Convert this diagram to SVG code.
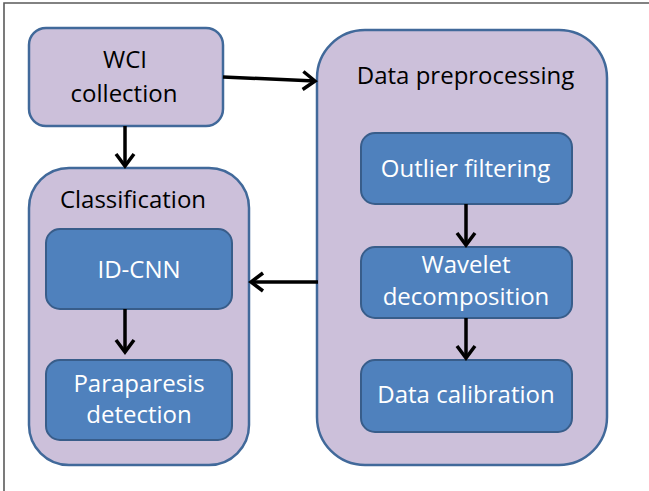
<svg xmlns="http://www.w3.org/2000/svg" width="649" height="491" viewBox="0 0 649 491">
<defs>
<style>
.frame{stroke:#5a5a5a;stroke-width:1.6;fill:none}
.outer{fill:#CCC0DA;stroke:#41699A;stroke-width:2.5}
.inner{fill:#4F81BD;stroke:#385D8A;stroke-width:2}
.t{font-family:"Open Sans","Noto Sans","DejaVu Sans",sans-serif;font-size:24px;text-anchor:middle}
.dark{fill:#000}
.light{fill:#fff}
.conn{stroke:#000;stroke-width:3.5;fill:none}
</style>
<marker id="arr" markerUnits="userSpaceOnUse" markerWidth="20" markerHeight="24" viewBox="0 0 20 24" refX="15" refY="12" orient="auto">
<path d="M3,3 L15,12 L3,21" fill="none" stroke="#000" stroke-width="3.5" stroke-linejoin="miter"/>
</marker>
</defs>
<rect width="649" height="491" fill="#fff"/>
<path class="frame" d="M4,491 L4,3 L649,3"/>

<g id="wci">
<rect class="outer" x="29" y="28" width="194" height="98" rx="17"/>
<text class="t dark" x="125" y="68">WCI</text>
<text class="t dark" x="124" y="102">collection</text>
</g>

<g id="classification">
<rect class="outer" x="29" y="168" width="220" height="297" rx="40"/>
<text class="t dark" x="133" y="208">Classification</text>
</g>

<g id="idcnn">
<rect class="inner" x="46" y="229" width="186" height="80" rx="14"/>
<text class="t light" x="139" y="278">ID-CNN</text>
</g>

<g id="paraparesis">
<rect class="inner" x="46" y="360" width="186" height="80" rx="14"/>
<text class="t light" x="139" y="392">Paraparesis</text>
<text class="t light" x="139" y="423">detection</text>
</g>

<g id="preprocessing">
<rect class="outer" x="317" y="30" width="290" height="435" rx="48"/>
<text class="t dark" x="465.5" y="84">Data preprocessing</text>
</g>

<g id="outlier">
<rect class="inner" x="361" y="133" width="211" height="71" rx="14"/>
<text class="t light" x="465.5" y="177">Outlier filtering</text>
</g>

<g id="wavelet">
<rect class="inner" x="361" y="247" width="211" height="71" rx="14"/>
<text class="t light" x="466" y="273">Wavelet</text>
<text class="t light" x="466" y="305">decomposition</text>
</g>

<g id="calibration">
<rect class="inner" x="361" y="360" width="211" height="72" rx="14"/>
<text class="t light" x="466" y="403">Data calibration</text>
</g>

<g id="connectors">
<line class="conn" x1="223" y1="77" x2="315" y2="81" marker-end="url(#arr)"/>
<line class="conn" x1="125" y1="126" x2="125" y2="166" marker-end="url(#arr)"/>
<line class="conn" x1="318" y1="282" x2="251" y2="282" marker-end="url(#arr)"/>
<line class="conn" x1="125" y1="309" x2="125" y2="352" marker-end="url(#arr)"/>
<line class="conn" x1="466" y1="204" x2="466" y2="245" marker-end="url(#arr)"/>
<line class="conn" x1="466" y1="318" x2="466" y2="358" marker-end="url(#arr)"/>
</g>
</svg>
